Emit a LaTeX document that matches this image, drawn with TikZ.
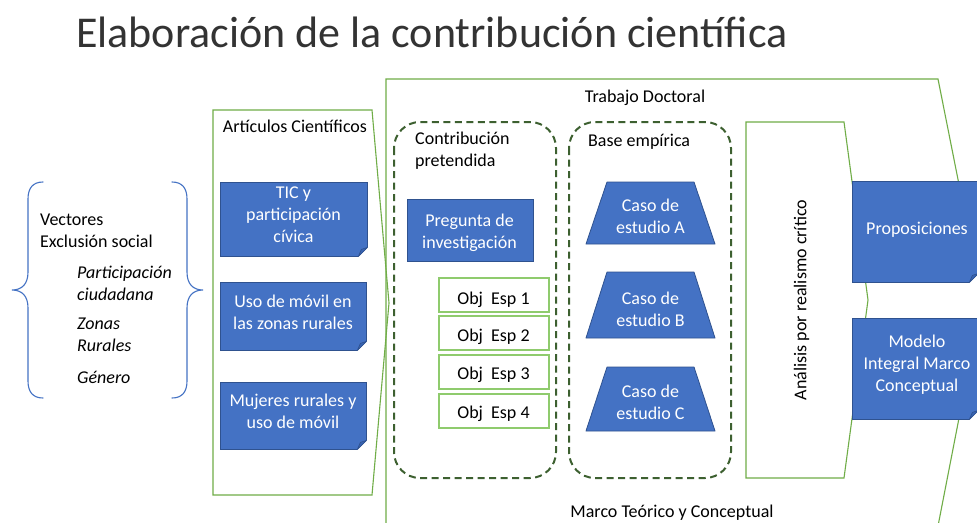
\documentclass[tikz,border=0pt]{standalone}
\usepackage{fontspec}
\setmainfont{Carlito}
\usetikzlibrary{calc}
\definecolor{grn}{HTML}{70AD47}
\definecolor{lgrn}{HTML}{8FCB6D}
\definecolor{dgrn}{HTML}{3D6030}
\definecolor{bfill}{HTML}{4472C4}
\definecolor{bline}{HTML}{2F528F}
\definecolor{bfold}{HTML}{3864B4}
\newcommand\FoldCorner[1]{%
  \fill[white] ($(#1.south east)+(-9,0.6)$) -- ($(#1.south east)+(0.6,0.6)$) -- ($(#1.south east)+(0.6,-9)$) -- cycle;
  \filldraw[fill=bfold, draw=bline, line width=0.7pt, line join=round] ($(#1.south east)+(-9,0)$) -- ($(#1.south east)+(0,-9)$) -- ($(#1.south east)+(-6,-7)$) -- cycle;
}
\begin{document}
\begin{tikzpicture}[x=1pt,y=-1pt,
  txt/.style={inner sep=0pt, yshift=-3pt, font=\fontsize{18}{22}\selectfont, execute at begin node=\strut, execute at end node=\strut},
  wtxt/.style={txt, text=white, align=center},
  bbox/.style={draw=bline, fill=bfill, line width=0.8pt, inner sep=0pt},
  gline/.style={draw=grn, line width=1.1pt, line join=miter},
  dbox/.style={draw=dgrn, line width=2pt, dash pattern=on 7pt off 4.5pt, rounded corners=26pt},
  objbox/.style={draw=lgrn, line width=1.1pt, fill=white, minimum width=110, minimum height=34, inner sep=0pt},
  bshape/.style={draw=bline, fill=bfill, line width=0.8pt, line join=round}
]
\useasboundingbox (0,0) rectangle (977,522);
\fill[white] (0,0) rectangle (977,522);

% title
\node[anchor=base west, inner sep=0pt, font=\fontsize{44}{52}\selectfont, text=black!80] (title) at (76,47) {Elaboración de la contribución científica};

% brace
\draw[bfill, line width=1.1pt, line cap=round]
  (43,182) .. controls (33,182) and (28,188) .. (28,199) -- (28,272)
  .. controls (28,284) and (22,290) .. (12,290)
  .. controls (22,290) and (28,296) .. (28,308) -- (28,381)
  .. controls (28,392) and (33,398) .. (43,398);
\draw[bfill, line width=1.1pt, line cap=round]
  (172,182) .. controls (182,182) and (187,188) .. (187,199) -- (187,272)
  .. controls (187,284) and (193,290) .. (203,290)
  .. controls (193,290) and (187,296) .. (187,308) -- (187,381)
  .. controls (187,392) and (182,398) .. (172,398);

\node[txt, align=left, anchor=west] (vect) at (40,231) {Vectores\\Exclusión social};
\node[txt, align=left, anchor=west, font=\fontsize{18}{22}\selectfont\itshape] (part) at (77,283.5) {Participación\\ciudadana};
\node[txt, align=left, anchor=west, font=\fontsize{18}{22}\selectfont\itshape] (zonas) at (77,335.5) {Zonas\\Rurales};
\node[txt, align=left, anchor=west, font=\fontsize{18}{22}\selectfont\itshape] (genero) at (77,376) {Género};

% Trabajo doctoral outline
\draw[gline] (386,526) -- (386,79) -- (938,79) -- (982,300) -- (938,526);
\node[txt] (trab) at (645,95) {Trabajo Doctoral};
\node[txt] (marco) at (672,510) {Marco Teórico y Conceptual};

% Articulos outline
\draw[gline] (213,110) -- (372,110) -- (389,303) -- (372,495) -- (213,495) -- cycle;
\node[txt] (artic) at (295,125) {Artículos Científicos};

% blue article boxes
\node[bbox, minimum width=147, minimum height=74] (tic) at (293.5,219) {};
\FoldCorner{tic}
\node[wtxt] (tict) at (293.5,215) {TIC y\\participación\\cívica};
\node[bbox, minimum width=146, minimum height=68] (uso) at (293,316) {};
\FoldCorner{uso}
\node[wtxt] (usot) at (293,312.5) {Uso de móvil en\\las zonas rurales};
\node[bbox, minimum width=146, minimum height=67] (muj) at (293,415.5) {};
\FoldCorner{muj}
\node[wtxt] (mujt) at (293,412) {Mujeres rurales y\\uso de móvil};

% dashed boxes
\draw[dbox] (394,122) rectangle (556,478);
\node[txt, align=left, anchor=west] (contr) at (415,149.5) {Contribución\\pretendida};
\draw[dbox] (569,122) rectangle (731,478);
\node[txt, anchor=west] (base) at (588,139) {Base empírica};

% pregunta
\node[bbox, minimum width=126, minimum height=62] (preg) at (470,230) {};
\node[wtxt] (pregt) at (469.5,231.5) {Pregunta de\\investigación};

% objetivos
\node[objbox] (o1) at (494,295) {};
\node[txt] (o1t) at (493.5,297) {Obj\ \ Esp 1};
\node[objbox] (o2) at (494,333) {};
\node[txt] (o2t) at (493.5,334) {Obj\ \ Esp 2};
\node[objbox] (o3) at (494,372) {};
\node[txt] (o3t) at (493.5,372) {Obj\ \ Esp 3};
\node[objbox] (o4) at (494,411) {};
\node[txt] (o4t) at (493.5,411) {Obj\ \ Esp 4};

% trapezoids
\draw[bshape] (607,182) -- (694,182) -- (715,244) -- (586,244) -- cycle;
\node[wtxt] (casoA) at (650.5,216.5) {Caso de\\estudio A};
\draw[bshape] (607,272) -- (694,272) -- (715,338) -- (586,338) -- cycle;
\node[wtxt] (casoB) at (650.5,309.5) {Caso de\\estudio B};
\draw[bshape] (607,367) -- (694,367) -- (715,431) -- (586,431) -- cycle;
\node[wtxt] (casoC) at (650.5,402.5) {Caso de\\estudio C};

% analisis
\draw[gline] (746,122) -- (844,122) -- (868,300) -- (844,478) -- (746,478) -- cycle;
\node[txt, yshift=3pt, rotate=90] (anal) at (802,300) {Análisis por realismo crítico};

% results
\node[bbox, minimum width=126, minimum height=101] (prop) at (915,231.5) {};
\FoldCorner{prop}
\node[wtxt] (propt) at (917,227) {Proposiciones};
\node[bbox, minimum width=126, minimum height=101] (mod) at (915,368.5) {};
\FoldCorner{mod}
\node[wtxt] (modt) at (917,363.5) {Modelo\\Integral Marco\\Conceptual};
\end{tikzpicture}
\end{document}
